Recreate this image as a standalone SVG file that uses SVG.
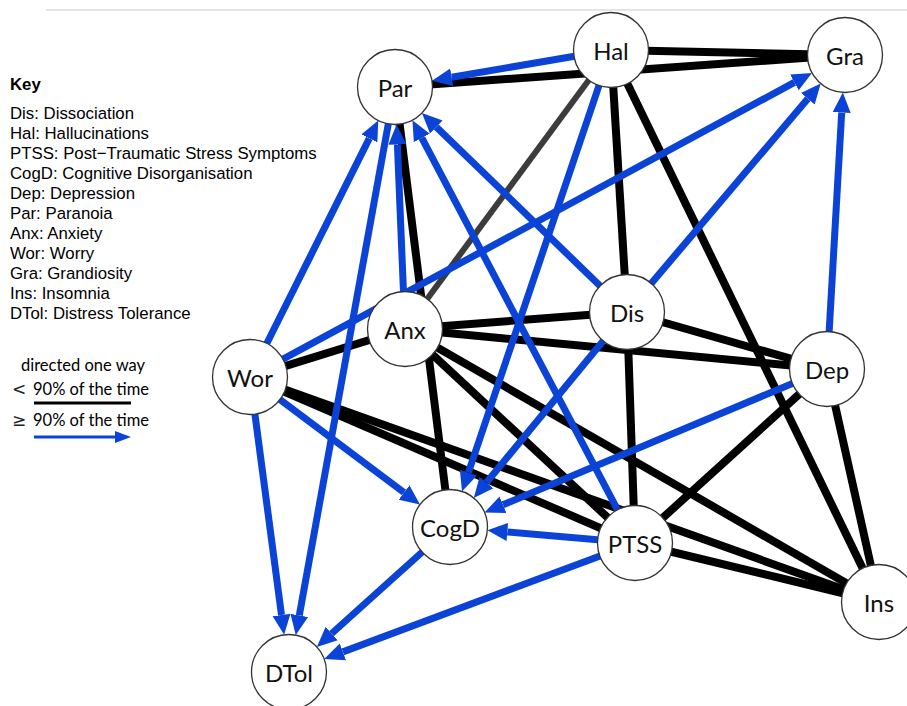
<svg xmlns="http://www.w3.org/2000/svg" width="907" height="706" viewBox="0 0 907 706">
<style>
.blk{stroke:#000;stroke-width:8;fill:none}
.gry{stroke:#3c3c3c;stroke-width:6;fill:none}
.blu{stroke:#0a43d6;stroke-width:7;fill:none;marker-end:url(#ah)}
.node circle{fill:#fff;stroke:#333;stroke-width:1.3}
.node text{font-family:Lato,"Open Sans",sans-serif;font-size:24px;fill:#111;text-anchor:middle;dominant-baseline:central}
.key{font-family:"Liberation Sans",Arial,sans-serif;font-size:16.8px;fill:#000}
.leg{font-family:Lato,"DejaVu Sans",sans-serif;font-size:16.5px;fill:#000}
.sym{font-family:"DejaVu Sans",sans-serif;font-size:17px;fill:#222}
</style>
<defs>
<marker id="ah" markerUnits="userSpaceOnUse" markerWidth="22" markerHeight="20" viewBox="0 -10 22 20" refX="0" refY="0" orient="auto">
<path d="M0,-9 L20,0 L0,9 z" fill="#0a43d6"/>
</marker>
<marker id="ahs" markerUnits="userSpaceOnUse" markerWidth="18" markerHeight="14" viewBox="0 -7 18 14" refX="0" refY="0" orient="auto">
<path d="M0,-6 L16,0 L0,6 z" fill="#0a43d6"/>
</marker>
</defs>
<rect width="907" height="706" fill="#fff"/>
<line x1="46" y1="10" x2="907" y2="10" stroke="#dcdcdc" stroke-width="1.5"/>

<g id="legend">
<text class="key" x="10" y="90" font-weight="bold">Key</text>
<text class="key" x="10" y="119">Dis: Dissociation</text>
<text class="key" x="10" y="139">Hal: Hallucinations</text>
<text class="key" x="10" y="159">PTSS: Post−Traumatic Stress Symptoms</text>
<text class="key" x="10" y="179">CogD: Cognitive Disorganisation</text>
<text class="key" x="10" y="199">Dep: Depression</text>
<text class="key" x="10" y="219">Par: Paranoia</text>
<text class="key" x="10" y="239">Anx: Anxiety</text>
<text class="key" x="10" y="259">Wor: Worry</text>
<text class="key" x="10" y="279">Gra: Grandiosity</text>
<text class="key" x="10" y="299">Ins: Insomnia</text>
<text class="key" x="10" y="319">DTol: Distress Tolerance</text>
<text class="leg" x="21" y="371">directed one way</text>
<text class="sym" x="12" y="395">&lt;</text>
<text class="leg" x="33" y="395">90% of the time</text>
<line x1="34" y1="403" x2="131" y2="403" stroke="#000" stroke-width="3"/>
<text class="sym" x="12" y="426">≥</text>
<text class="leg" x="33" y="426">90% of the time</text>
<line x1="34" y1="437" x2="115" y2="437" stroke="#0a43d6" stroke-width="3" marker-end="url(#ahs)"/>
</g>

<g id="edges">
<line class="blk" x1="395" y1="87" x2="845" y2="55" stroke-width="9"/>
<line class="blk" x1="611" y1="50" x2="845" y2="55" stroke-width="9"/>
<line class="gry" x1="611" y1="50" x2="405" y2="329"/>
<line class="blk" x1="611" y1="50" x2="627" y2="312"/>
<line class="blk" x1="627" y1="312" x2="635" y2="543"/>
<line class="blk" x1="611" y1="50" x2="879" y2="602"/>
<line class="blk" x1="395" y1="87" x2="450" y2="527"/>
<line class="blk" x1="250" y1="377" x2="405" y2="329"/>
<line class="blk" x1="250" y1="377" x2="635" y2="543"/>
<line class="blk" x1="250" y1="377" x2="879" y2="602"/>
<line class="blk" x1="405" y1="329" x2="627" y2="312"/>
<line class="blk" x1="405" y1="329" x2="827" y2="369"/>
<line class="blk" x1="405" y1="329" x2="635" y2="543"/>
<line class="blk" x1="405" y1="329" x2="879" y2="602"/>
<line class="blk" x1="627" y1="312" x2="827" y2="369"/>
<line class="blk" x1="827" y1="369" x2="635" y2="543"/>
<line class="blk" x1="827" y1="369" x2="879" y2="602"/>
<line class="blk" x1="635" y1="543" x2="879" y2="602"/>

<line class="blu" x1="611" y1="50" x2="451.7" y2="77.3"/>
<line class="blu" x1="250" y1="377" x2="369.3" y2="138.4"/>
<line class="blu" x1="405" y1="329" x2="397.4" y2="144.5"/>
<line class="blu" x1="635" y1="543" x2="421.8" y2="137.9"/>
<line class="blu" x1="627" y1="312" x2="436.3" y2="127.0"/>
<line class="blu" x1="395" y1="87" x2="299.3" y2="615.4"/>
<line class="blu" x1="250" y1="377" x2="281.5" y2="615.0"/>
<line class="blu" x1="450" y1="527" x2="331.7" y2="633.5"/>
<line class="blu" x1="635" y1="543" x2="342.9" y2="651.9"/>
<line class="blu" x1="250" y1="377" x2="794.4" y2="82.4"/>
<line class="blu" x1="627" y1="312" x2="807.8" y2="98.8"/>
<line class="blu" x1="827" y1="369" x2="841.7" y2="112.4"/>
<line class="blu" x1="250" y1="377" x2="404" y2="492.5"/>
<line class="blu" x1="611" y1="50" x2="468.4" y2="472.5"/>
<line class="blu" x1="627" y1="312" x2="486.5" y2="482.6"/>
<line class="blu" x1="827" y1="369" x2="503.0" y2="504.8"/>
<line class="blu" x1="635" y1="543" x2="507.3" y2="532.0"/>
</g>

<g id="n-Hal" class="node"><circle cx="611" cy="50" r="37.5"/><text x="611" y="50">Hal</text></g>
<g id="n-Gra" class="node"><circle cx="845" cy="55" r="37.5"/><text x="845" y="55">Gra</text></g>
<g id="n-Par" class="node"><circle cx="395" cy="87" r="37.5"/><text x="395" y="87">Par</text></g>
<g id="n-Anx" class="node"><circle cx="405" cy="329" r="37.5"/><text x="405" y="329">Anx</text></g>
<g id="n-Dis" class="node"><circle cx="627" cy="312" r="37.5"/><text x="627" y="312">Dis</text></g>
<g id="n-Wor" class="node"><circle cx="250" cy="377" r="37.5"/><text x="250" y="377">Wor</text></g>
<g id="n-Dep" class="node"><circle cx="827" cy="369" r="37.5"/><text x="827" y="369">Dep</text></g>
<g id="n-CogD" class="node"><circle cx="450" cy="527" r="37.5"/><text x="450" y="527">CogD</text></g>
<g id="n-PTSS" class="node"><circle cx="635" cy="543" r="37.5"/><text x="635" y="543">PTSS</text></g>
<g id="n-Ins" class="node"><circle cx="879" cy="602" r="37.5"/><text x="879" y="602">Ins</text></g>
<g id="n-DTol" class="node"><circle cx="289" cy="672" r="37.5"/><text x="289" y="672">DTol</text></g>
</svg>
